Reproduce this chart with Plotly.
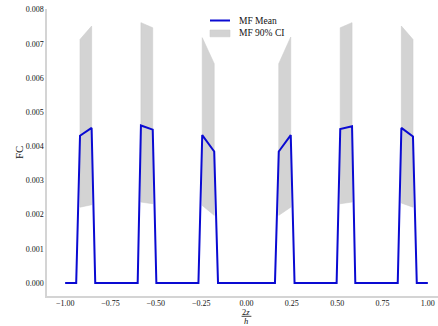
import plotly.graph_objects as go

# ---- data ----
mean_x = [-1.0, -0.939, -0.918, -0.854, -0.834,
          -0.600, -0.582, -0.517, -0.497,
          -0.265, -0.244, -0.178, -0.157,
          0.157, 0.178, 0.244, 0.265,
          0.497, 0.517, 0.582, 0.600,
          0.834, 0.854, 0.918, 0.939, 1.0]
mean_fc = [0.0, 0.0, 0.00431, 0.00454, 0.0,
           0.0, 0.00461, 0.00449, 0.0,
           0.0, 0.00433, 0.00385, 0.0,
           0.0, 0.00385, 0.00433, 0.0,
           0.0, 0.00451, 0.00459, 0.0,
           0.0, 0.00454, 0.00429, 0.0, 0.0]

ci_x = [-0.918, -0.854, -0.582, -0.517, -0.244, -0.178,
        0.178, 0.244, 0.517, 0.582, 0.854, 0.918]
ci_upper = [0.00713, 0.00752, 0.00762, 0.00747, 0.00718, 0.00642,
            0.00642, 0.00720, 0.00747, 0.00762, 0.00752, 0.00713]
ci_lower = [0.00222, 0.00229, 0.00237, 0.00232, 0.00227, 0.00198,
            0.00198, 0.00222, 0.00232, 0.00237, 0.00234, 0.00222]

x_ticks = [-1.0, -0.75, -0.5, -0.25, 0.0, 0.25, 0.5, 0.75, 1.0]
y_ticks = [0.000, 0.001, 0.002, 0.003, 0.004, 0.005, 0.006, 0.007, 0.008]

FONT = "Liberation Serif"
BLUE = "#0a0ad2"
GRAY = "#d3d3d3"
TXT = "#111111"

# build CI polygons (one per plateau), separated by None
band_x, band_y = [], []
for i in range(0, len(ci_x), 2):
    xa, xb = ci_x[i], ci_x[i + 1]
    band_x += [xa, xb, xb, xa, xa, None]
    band_y += [ci_upper[i], ci_upper[i + 1], ci_lower[i + 1], ci_lower[i], ci_upper[i], None]

fig = go.Figure()
fig.add_trace(go.Scatter(
    x=band_x, y=band_y, mode="lines", fill="toself",
    fillcolor=GRAY, line=dict(color="#cdcdcd", width=0.6),
    name="MF 90% CI", showlegend=False, hoverinfo="skip"))
fig.add_trace(go.Scatter(
    x=mean_x, y=mean_fc, mode="lines",
    line=dict(color=BLUE, width=2),
    name="MF Mean", showlegend=False))

W, H = 438, 326
L, T, R, B = 47, 9, 0, 30
pw, ph = W - L - R, H - T - B


def px(xs):  # pixel x -> paper
    return (xs - L) / pw


def py(ys):  # pixel y -> paper
    return (H - B - ys) / ph


def ann(text, x, y, size, xref="paper", xanchor="center", angle=0):
    return dict(text=text, x=x, y=y, xref=xref, yref="paper",
                xanchor=xanchor, yanchor="middle", textangle=angle,
                showarrow=False, font=dict(family=FONT, size=size, color=TXT))


annotations = [
    ann("FC", px(18.5), 0.5, 11, angle=-90),
    ann("2<i>z</i>", 0, py(311.5), 8.5, xref="x"),
    ann("<i>h</i>", 0, py(321.0), 8.5, xref="x"),
    ann("MF Mean", px(237), py(20.5), 9.5, xanchor="left"),
    ann("MF 90% CI", px(237), py(33.5), 9.5, xanchor="left"),
]

shapes = [
    dict(type="line", xref="x", yref="paper", x0=-0.027, x1=0.027,
         y0=py(316.3), y1=py(316.3), line=dict(color=TXT, width=0.8)),
    dict(type="line", xref="paper", yref="paper", x0=px(210), x1=px(230),
         y0=py(20.5), y1=py(20.5), line=dict(color=BLUE, width=2)),
    dict(type="rect", xref="paper", yref="paper", x0=px(210), x1=px(230),
         y0=py(36.8), y1=py(30.0), fillcolor=GRAY, line=dict(color="#cdcdcd", width=0.6)),
]

fig.update_layout(
    width=W, height=H,
    margin=dict(l=L, r=R, t=T, b=B, pad=0),
    paper_bgcolor="white", plot_bgcolor="white",
    font=dict(family=FONT, size=8, color=TXT),
    showlegend=False,
    annotations=annotations,
    shapes=shapes,
)
fig.update_xaxes(
    range=[-1.1, 1.056], tickvals=x_ticks, tickformat=".2f",
    showgrid=False, zeroline=False, showline=True,
    linecolor="#d4d4d4", linewidth=1.5, ticks="", ticklabelstandoff=-1,
    tickfont=dict(family=FONT, size=8, color=TXT))
fig.update_yaxes(
    range=[-0.00038, 0.00802], tickvals=y_ticks, tickformat=".3f",
    showgrid=False, zeroline=False, showline=True,
    linecolor="#d4d4d4", linewidth=1.5, ticks="", ticklabeloverflow="allow",
    tickfont=dict(family=FONT, size=8, color=TXT))

# remove the default 8px page margin so the figure sits at the window's corner
fig.write_html("out.html", config={"displayModeBar": False},
               post_script="document.body.style.margin='0';")
